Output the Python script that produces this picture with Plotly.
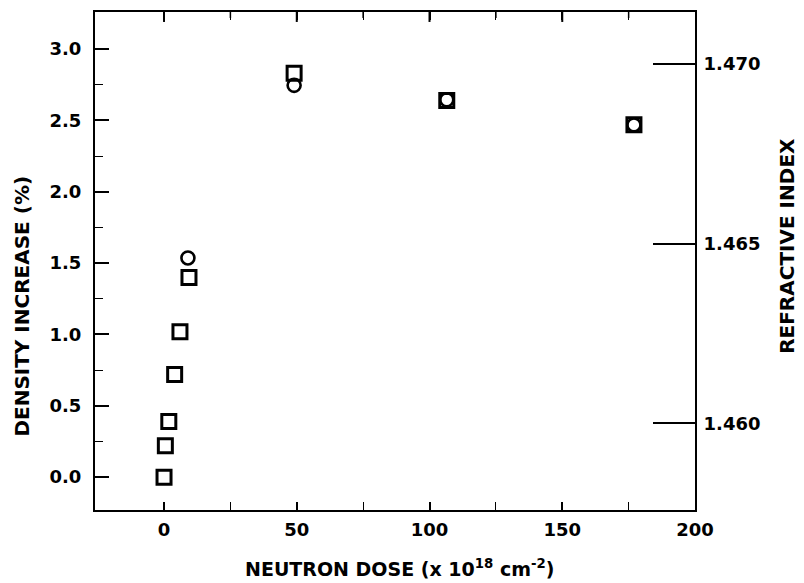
import plotly.graph_objects as go

# Density data (squares, left axis)
dose_density = [0, 0.5, 1.8, 4, 6, 9.4, 49, 106.5, 177]
density_increase = [0.0, 0.22, 0.39, 0.72, 1.02, 1.40, 2.83, 2.64, 2.47]

# Refractive index data (circles, right axis)
dose_index = [9, 49, 106.5, 177]
refractive_index = [1.4646, 1.4694, 1.4690, 1.4683]

x_ticks = [0, 50, 100, 150, 200]
x_minor = [25, 75, 125, 175]
y_ticks = [0.0, 0.5, 1.0, 1.5, 2.0, 2.5, 3.0]
y_minor = [0.25, 0.75, 1.25, 1.75, 2.25, 2.75]
y2_ticks = [1.460, 1.465, 1.470]

FONT = "DejaVu Sans"
tickfont = dict(family=FONT, size=18, color="black")

fig = go.Figure()
fig.add_trace(go.Scatter(
    x=dose_density, y=density_increase, mode="markers",
    marker=dict(symbol="square-open", size=14, color="black", line=dict(width=3, color="black")),
    showlegend=False, xaxis="x", yaxis="y"))
fig.add_trace(go.Scatter(
    x=dose_index, y=refractive_index, mode="markers",
    marker=dict(symbol="circle-open", size=13, color="black", line=dict(width=2.6, color="black")),
    showlegend=False, xaxis="x", yaxis="y2"))

fig.update_layout(
    width=804, height=583,
    margin=dict(l=95, r=109, t=10, b=73),
    paper_bgcolor="white", plot_bgcolor="white",
    xaxis=dict(
        range=[-26, 200], tickvals=x_ticks, ticktext=[f"<b>{v}</b>" for v in x_ticks],
        ticks="inside", ticklen=8, tickwidth=1.5, tickcolor="black",
        minor=dict(tickvals=x_minor, ticks="inside", ticklen=5, tickcolor="black", tickwidth=1.2),
        showline=True, linecolor="black", linewidth=2, mirror="allticks",
        showgrid=False, zeroline=False, tickfont=tickfont, ticklabelstandoff=2),
    yaxis=dict(
        range=[-0.23, 3.26], tickvals=y_ticks, ticktext=[f"<b>{v:.1f}</b>" for v in y_ticks],
        ticks="inside", ticklen=14, tickwidth=1.5, tickcolor="black",
        minor=dict(tickvals=y_minor, ticks="inside", ticklen=8, tickcolor="black", tickwidth=1.2),
        showline=True, linecolor="black", linewidth=2,
        showgrid=False, zeroline=False, tickfont=tickfont, ticklabelstandoff=8),
    yaxis2=dict(
        range=[1.45759, 1.47144], tickvals=y2_ticks, ticktext=[f"<b>{v:.3f}</b>" for v in y2_ticks],
        overlaying="y", side="right", anchor="x",
        ticks="inside", ticklen=42, tickwidth=2, tickcolor="black",
        showline=True, linecolor="black", linewidth=2,
        showgrid=False, zeroline=False, tickfont=tickfont, ticklabelstandoff=3),
    annotations=[
        dict(text="<b>DENSITY INCREASE (%)</b>", xref="paper", yref="paper", x=-0.122, y=0.41,
             xanchor="center", yanchor="middle",
             textangle=-90, showarrow=False, font=dict(family=FONT, size=20, color="black")),
        dict(text="<b>REFRACTIVE INDEX</b>", xref="paper", yref="paper", x=1.153, y=0.53,
             xanchor="center", yanchor="middle",
             textangle=-90, showarrow=False, font=dict(family=FONT, size=20, color="black")),
        dict(text="<b>NEUTRON DOSE (x 10<sup>18</sup> cm<sup>-2</sup>)</b>", xref="paper", yref="paper",
             x=0.508, y=-0.116, xanchor="center", yanchor="middle",
             showarrow=False, font=dict(family=FONT, size=19, color="black")),
    ],
)

# top-edge tick marks (major longer, minor shorter), placed at the axis tick values
for v in x_ticks[:-1]:
    fig.add_shape(type="line", xref="x", yref="paper", x0=v, x1=v, y0=1, y1=0.98,
                  line=dict(color="black", width=2))
for v in x_minor:
    fig.add_shape(type="line", xref="x", yref="paper", x0=v, x1=v, y0=1, y1=0.988,
                  line=dict(color="black", width=1.5))

fig.write_html("out.html")
